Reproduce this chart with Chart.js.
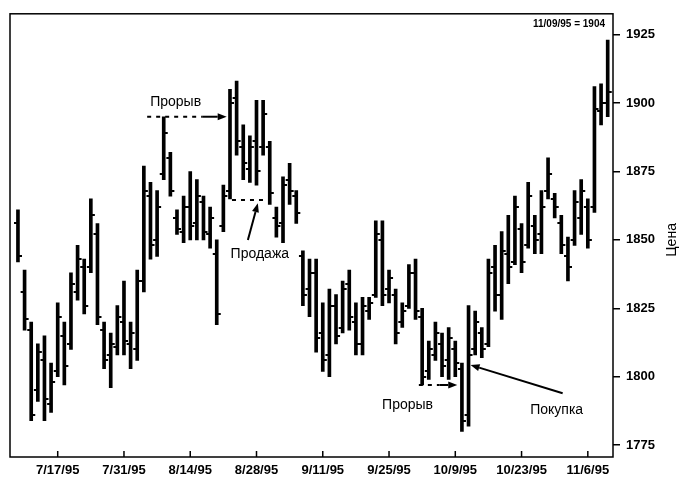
<!DOCTYPE html>
<html>
<head>
<meta charset="utf-8">
<script src="https://cdn.jsdelivr.net/npm/chart.js@4/dist/chart.umd.min.js"></script>
<style>html,body{margin:0;padding:0;background:#fff}</style>
</head>
<body>
<canvas id="c" width="692" height="482"></canvas>
<script>
// TRADING DAYS 7/7/95 - 11/9/95
const dates = [
  '7/7','7/10','7/11','7/12','7/13','7/14','7/17','7/18','7/19','7/20','7/21',
  '7/24','7/25','7/26','7/27','7/28','7/31',
  '8/1','8/2','8/3','8/4','8/7','8/8','8/9','8/10','8/11','8/14','8/15','8/16','8/17','8/18',
  '8/21','8/22','8/23','8/24','8/25','8/28','8/29','8/30','8/31',
  '9/1','9/4','9/5','9/6','9/7','9/8','9/11','9/12','9/13','9/14','9/15',
  '9/18','9/19','9/20','9/21','9/22','9/25','9/26','9/27','9/28','9/29',
  '10/2','10/3','10/4','10/5','10/6','10/9','10/10','10/11','10/12','10/13',
  '10/16','10/17','10/18','10/19','10/20','10/23','10/24','10/25','10/26','10/27','10/30','10/31',
  '11/1','11/2','11/3','11/6','11/7','11/8','11/9'
];
const highs = [
  1861,1839,1820,1812,1815,1805,1827,1820,1838,1848,1843,1865,1856,1820,1816,1826,1835,
  1820,1839,1877,1871,1868,1895,1882,1861,1866,1875,1872,1866,1862,1850,1870,1905,1908,1892,1888,1901,1901,1886,1862,
  1873,1878,1868,1846,1843,1843,1827,1832,1830,1835,1839,1827,1829,1829,1857,1857,1839,1832,1827,1841,1843,
  1825,1813,1820,1816,1818,1813,1805,1826,1824,1818,1843,1848,1853,1859,1866,1856,1871,1859,1868,1880,1867,1859,
  1851,1868,1872,1865,1906,1907,1923
];
const lows = [
  1842,1817,1784,1791,1784,1787,1800,1797,1810,1828,1823,1838,1819,1803,1796,1808,1808,
  1803,1806,1831,1843,1844,1872,1866,1852,1849,1850,1850,1850,1847,1819,1853,1865,1881,1872,1871,1870,1881,1863,1851,
  1849,1863,1856,1826,1822,1809,1802,1800,1812,1816,1817,1808,1808,1821,1829,1826,1827,1812,1818,1825,1821,
  1797,1799,1806,1800,1799,1800,1780,1782,1808,1807,1811,1824,1821,1834,1841,1838,1847,1845,1845,1865,1858,1845,
  1835,1848,1852,1847,1860,1892,1895
];
const opens = [
  1856,1831,1817,1795,1806,1790,1802,1815,1812,1831,1840,1840,1852,1817,1808,1811,1820,
  1812,1810,1835,1866,1850,1874,1880,1858,1853,1862,1856,1864,1852,1845,1855,1868,1902,1884,1876,1886,1884,1884,1858,
  1856,1872,1866,1844,1832,1838,1816,1808,1826,1818,1834,1820,1812,1824,1830,1850,1832,1830,1820,1826,1838,
  1822,1802,1808,1812,1806,1810,1803,1786,1810,1816,1812,1840,1830,1845,1842,1854,1848,1855,1852,1868,1865,1856,
  1844,1850,1858,1862,1862,1897,1900
];
const closes = [
  1844,1821,1786,1809,1792,1798,1822,1804,1834,1843,1826,1859,1822,1806,1812,1822,1813,
  1816,1835,1868,1848,1862,1889,1868,1854,1862,1855,1866,1853,1858,1823,1866,1900,1886,1878,1884,1875,1896,1867,1855,
  1870,1868,1860,1830,1838,1814,1806,1826,1815,1832,1822,1812,1826,1827,1852,1830,1836,1816,1824,1838,1824,
  1800,1810,1816,1804,1814,1805,1784,1808,1820,1810,1838,1830,1846,1840,1862,1842,1866,1850,1862,1874,1862,1848,
  1840,1864,1868,1850,1898,1900,1904
];
const xTicks = ['7/17','7/31','8/14','8/28','9/11','9/25','10/9','10/23','11/6'];
const yTicks = [1775,1800,1825,1850,1875,1900,1925];
const yTitle = 'Цена';
const lastNote = '11/09/95 = 1904';

// annotations, in (day index, price)
const texts = [
  {t:'Прорыв', at:[23.8,1900.2]},
  {t:'Продажа', at:[36.5,1844.7]},
  {t:'Прорыв', at:[58.8,1789.6]},
  {t:'Покупка', at:[81.3,1787.8]}
];
const dashes = [
  {from:[19.5,1895], to:[27.8,1895]},
  {from:[32.3,1864.6], to:[37.7,1864.6]},
  {from:[60.5,1797], to:[63.6,1797]}
];
const arrows = [
  {from:[27.8,1895], to:[31.5,1895]},
  {from:[34.7,1850], to:[36.2,1863.4]},
  {from:[63.6,1797], to:[66.3,1797]},
  {from:[82.2,1794], to:[68.3,1804.3]}
];

function tickImg(left){
  const c=document.createElement('canvas'); c.width=10; c.height=2;
  const g=c.getContext('2d'); g.fillStyle='#000';
  g.fillRect(left?1:5,0,4,2);
  return c;
}

const notes = {
  id:'notes',
  afterDatasetsDraw(chart){
    const {ctx, chartArea:a, scales:{x,y}} = chart;
    const P = p => [x.getPixelForValue(p[0]), y.getPixelForValue(p[1])];
    ctx.save();
    ctx.strokeStyle='#000'; ctx.fillStyle='#000';
    // frame
    ctx.lineWidth=1.5;
    ctx.strokeRect(a.left,a.top,a.right-a.left,a.bottom-a.top);
    // inward x ticks
    xTicks.forEach(d=>{
      const px=x.getPixelForValue(dates.indexOf(d));
      ctx.beginPath(); ctx.moveTo(px,a.bottom); ctx.lineTo(px,a.bottom-6); ctx.stroke();
    });
    // dashed levels
    ctx.lineWidth=2;
    ctx.setLineDash([4,5]);
    dashes.forEach(s=>{
      const p0=P(s.from), p1=P(s.to);
      ctx.beginPath(); ctx.moveTo(p0[0],p0[1]); ctx.lineTo(p1[0],p1[1]); ctx.stroke();
    });
    ctx.setLineDash([]);
    // arrows
    arrows.forEach(s=>{
      const p0=P(s.from), p1=P(s.to);
      const ang=Math.atan2(p1[1]-p0[1],p1[0]-p0[0]);
      const L=9, W=3.5;
      const bx=p1[0]-L*Math.cos(ang), by=p1[1]-L*Math.sin(ang);
      ctx.beginPath(); ctx.moveTo(p0[0],p0[1]); ctx.lineTo(bx,by); ctx.stroke();
      ctx.beginPath();
      ctx.moveTo(p1[0],p1[1]);
      ctx.lineTo(bx+W*Math.sin(ang), by-W*Math.cos(ang));
      ctx.lineTo(bx-W*Math.sin(ang), by+W*Math.cos(ang));
      ctx.closePath(); ctx.fill();
    });
    // texts
    ctx.font='14px "Liberation Sans", Arial, sans-serif';
    ctx.textAlign='center'; ctx.textBaseline='middle';
    texts.forEach(s=>{ const p=P(s.at); ctx.fillText(s.t,p[0],p[1]); });
    ctx.font='bold 10px "Liberation Sans", Arial, sans-serif';
    ctx.textAlign='right';
    ctx.fillText(lastNote, a.right-8, a.top+10);
    // y axis title, reads bottom to top
    ctx.font='14px "Liberation Sans", Arial, sans-serif';
    ctx.textAlign='center';
    ctx.translate(672, y.getPixelForValue(1850));
    ctx.rotate(-Math.PI/2);
    ctx.fillText(yTitle, 0, 0);
    ctx.restore();
  }
};

const tickFont = {family:'"Liberation Sans", Arial, sans-serif', size:13, weight:'bold'};

new Chart(document.getElementById('c'), {
  type:'bar',
  data:{
    datasets:[
      {type:'bar', data:dates.map((d,i)=>({x:i, y:[lows[i],highs[i]]})),
       backgroundColor:'#000', barThickness:3, grouped:false},
      {type:'scatter', data:dates.map((d,i)=>({x:i, y:opens[i]})),
       pointStyle:tickImg(true), pointRadius:3},
      {type:'scatter', data:dates.map((d,i)=>({x:i, y:closes[i]})),
       pointStyle:tickImg(false), pointRadius:3}
    ]
  },
  options:{
    responsive:false, animation:false,
    layout:{padding:{left:10, top:8, right:0, bottom:0}},
    plugins:{legend:{display:false}, tooltip:{enabled:false}},
    scales:{
      x:{
        type:'linear', min:-1.2, max:89.8, offset:false,
        afterBuildTicks: s => { s.ticks = xTicks.map(d=>({value:dates.indexOf(d)})); },
        afterFit: s => { s.height = 25; },
        grid:{display:false, drawTicks:false},
        border:{display:false},
        ticks:{autoSkip:false, maxRotation:0, padding:6, color:'#000', font:tickFont,
          callback: v => dates[v] + '/95'}
      },
      y:{
        position:'right', min:1770.7, max:1932.6,
        afterBuildTicks: s => { s.ticks = yTicks.map(v=>({value:v})); },
        afterFit: s => { s.width = 79; },
        grid:{drawOnChartArea:false, tickLength:7, color:'#000', lineWidth:1.5},
        border:{display:false},
        ticks:{padding:6, color:'#000', font:tickFont, callback: v => String(v)}
      }
    }
  },
  plugins:[notes]
});
</script>
</body>
</html>
